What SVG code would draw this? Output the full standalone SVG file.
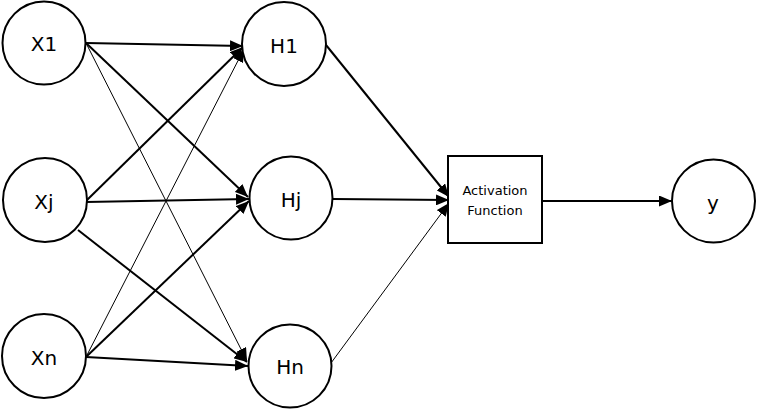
<svg xmlns="http://www.w3.org/2000/svg" width="758" height="411" viewBox="0 0 758 411">
<defs>
<style>
.node{fill:#fff;stroke:#000;stroke-width:2}
.lbl{font-family:"DejaVu Sans","Liberation Sans",sans-serif;font-size:20px;fill:#000;text-anchor:middle;dominant-baseline:central}
.small{font-family:"DejaVu Sans","Liberation Sans",sans-serif;font-size:13px;fill:#000;text-anchor:middle}
.thick{stroke:#000;stroke-width:2;fill:none;marker-end:url(#ah)}
.thin{stroke:#000;stroke-width:1;fill:none;marker-end:url(#ah)}
</style>
<marker id="ah" viewBox="0 0 13 11" refX="13" refY="5.5" markerWidth="13" markerHeight="11" markerUnits="userSpaceOnUse" orient="auto">
<path d="M0,0 L13,5.5 L0,11 z" fill="#000"/>
</marker>
</defs>
<rect width="758" height="411" fill="#fff"/>
<g id="connectors">
<line class="thick" x1="86" y1="43" x2="243" y2="46"/>
<line class="thick" x1="86" y1="43" x2="248" y2="197"/>
<line class="thin" x1="86" y1="43" x2="247" y2="361"/>
<line class="thick" x1="86" y1="201" x2="243" y2="47"/>
<line class="thick" x1="86" y1="202" x2="249" y2="199"/>
<line class="thick" x1="78" y1="230" x2="247" y2="362"/>
<line class="thin" x1="86" y1="357" x2="244" y2="49"/>
<line class="thick" x1="86" y1="357" x2="249" y2="201"/>
<line class="thick" x1="86" y1="357" x2="248" y2="366"/>
<line class="thick" x1="326" y1="45" x2="449" y2="197"/>
<line class="thick" x1="333" y1="199" x2="449" y2="200"/>
<line class="thin" x1="331" y1="363" x2="449" y2="203"/>
<line class="thick" x1="542" y1="201" x2="672" y2="201"/>
</g>
<g id="X1"><circle class="node" cx="44" cy="43" r="41.5"/><text class="lbl" x="44" y="44">X1</text></g>
<g id="Xj"><circle class="node" cx="45" cy="200" r="42"/><text class="lbl" x="44" y="202">Xj</text></g>
<g id="Xn"><circle class="node" cx="44" cy="356" r="42"/><text class="lbl" x="44" y="358">Xn</text></g>
<g id="H1"><circle class="node" cx="284" cy="44" r="42"/><text class="lbl" x="284" y="46">H1</text></g>
<g id="Hj"><circle class="node" cx="291" cy="198" r="41.5"/><text class="lbl" x="291" y="200">Hj</text></g>
<g id="Hn"><circle class="node" cx="290" cy="366" r="41.5"/><text class="lbl" x="290" y="367">Hn</text></g>
<g id="Activation"><rect class="node" x="448" y="156" width="94" height="87"/><text class="small" x="495" y="195">Activation</text><text class="small" x="495" y="215">Function</text></g>
<g id="y"><circle class="node" cx="713.5" cy="201" r="41.5"/><text class="lbl" x="713" y="203">y</text></g>
</svg>
